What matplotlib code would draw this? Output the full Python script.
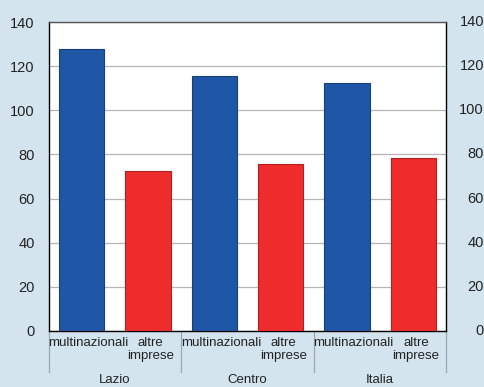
import matplotlib
matplotlib.use("Agg")
import matplotlib.pyplot as plt
from matplotlib.lines import Line2D

plt.rcParams['font.family'] = ['Liberation Sans', 'DejaVu Sans']

regions = ["Lazio", "Centro", "Italia"]
series = ["multinazionali", "altre\nimprese"]
multinazionali = [127.8, 115.5, 112.4]
altre_imprese = [72.5, 75.8, 78.4]
yticks = [0, 20, 40, 60, 80, 100, 120, 140]

bg = "#d3e4ee"
blue = "#1f56a5"
red = "#ee2c2c"
txt = "#222222"

fig = plt.figure(figsize=(4.85, 3.87), dpi=100, facecolor=bg)
ax = fig.add_axes([48.5 / 485, 1 - 331 / 387, 398 / 485, 309 / 387])
ax.set_facecolor("white")

width = 0.68
for i in range(len(regions)):
    ax.bar(2 * i, multinazionali[i], width=width, color=blue, edgecolor="#173f7a", linewidth=0.8, zorder=3)
    ax.bar(2 * i + 1, altre_imprese[i], width=width, color=red, edgecolor="#b02020", linewidth=0.8, zorder=3)

ax.set_xlim(-0.5, 5.5)
ax.set_ylim(0, 140)
ax.set_yticks(yticks)
ax.set_yticklabels([str(v) for v in yticks], fontsize=10.5, color=txt)
ax.tick_params(axis="y", length=0, pad=10)
ax.set_xticks([])
ax.grid(axis="y", color="#b5b5b5", linewidth=0.9, zorder=0)

for side in ["left", "bottom", "right"]:
    ax.spines[side].set_color("black")
    ax.spines[side].set_linewidth(1.0)
ax.spines["top"].set_color("#555555")
ax.spines["top"].set_linewidth(1.0)

# right-axis labels, right-aligned near the figure edge
ytrans = ax.get_yaxis_transform()
for v in yticks:
    ax.text((484 - 48.5) / 398, v, str(v), transform=ytrans, ha="right", va="center",
            fontsize=10.5, color=txt, clip_on=False)

# sub-category labels under each bar, region names below
trans = ax.get_xaxis_transform()
for i in range(len(regions)):
    ax.text(2 * i + 0.1, -0.018, series[0], transform=trans, ha="center", va="top",
            fontsize=9.5, color=txt)
    ax.text(2 * i + 1.04, -0.018, series[1], transform=trans, ha="center", va="top",
            fontsize=9.5, color=txt, multialignment="center", linespacing=1.2)
    ax.text(2 * i + 0.5, -0.14, regions[i], transform=trans, ha="center", va="top",
            fontsize=9.5, color=txt)

# group separators
for xs in [-0.5, 1.5, 3.5, 5.5]:
    ax.add_line(Line2D([xs, xs], [0, -0.133], transform=trans, color="#9aa8b2",
                       linewidth=0.9, clip_on=False))

fig.savefig("out.png", dpi=100, facecolor=bg)
